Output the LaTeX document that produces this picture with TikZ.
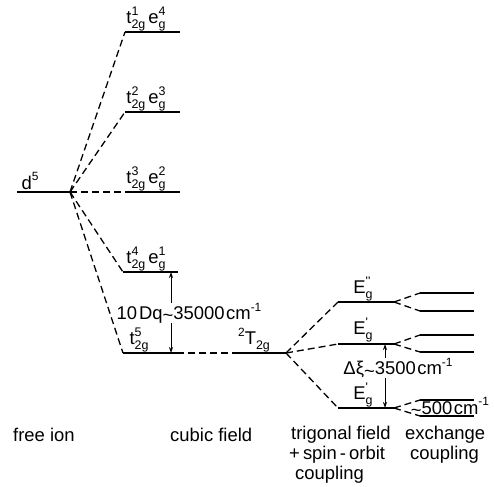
\documentclass[tikz,border=0pt]{standalone}
\usepackage{fontspec}
\setmainfont{Liberation Sans}
\usetikzlibrary{arrows.meta}
% symbol with stacked superscript and subscript
\newcommand{\lv}[3]{#1\rlap{\raisebox{0.85ex}{\fontsize{12.5}{13}\selectfont #2}}\raisebox{-0.55ex}{\fontsize{12.5}{13}\selectfont #3}}
\newcommand{\upi}[1]{\raisebox{0.85ex}{\fontsize{12}{13}\selectfont #1}}
\newcommand{\tld}{\raisebox{-0.25ex}{\textasciitilde}}
\begin{document}
\begin{tikzpicture}[x=1bp,y=-1bp,
  font=\fontsize{18.5}{22}\selectfont,
  level/.style={line width=1.4bp},
  link/.style={line width=1.3bp, dash pattern=on 7bp off 4bp},
  gap/.style={line width=0.8bp, -{Stealth[length=6bp,width=4bp]}},
  lbl/.style={inner sep=0pt},
  caption/.style={inner sep=0pt, anchor=west, align=left}]
\useasboundingbox (0,0) rectangle (494,487);

% free ion
\coordinate (d0) at (17,192);
\coordinate (d1) at (70,192);
\draw[level] (d0) -- (d1);
\node[lbl] (dl) at (30,181) {d\upi{5}};

% cubic field levels
\coordinate (a0) at (125,32);  \coordinate (a1) at (180,32);
\coordinate (b0) at (125,112); \coordinate (b1) at (180,112);
\coordinate (c0) at (125,192); \coordinate (c1) at (180,192);
\coordinate (e0) at (123,272); \coordinate (e1) at (178,272);
\coordinate (f0) at (123,353); \coordinate (f1) at (177,353);
\foreach \p in {a,b,c,e,f} \draw[level] (\p0) -- (\p1);
\foreach \p in {a,b,c,e,f} \draw[link] (d1) -- (\p0);

\node[lbl] (al) at (146,19)  {\lv{t}{1}{2g}\,\lv{e}{4}{g}};
\node[lbl] (bl) at (146,99)  {\lv{t}{2}{2g}\,\lv{e}{3}{g}};
\node[lbl] (cl) at (146,179) {\lv{t}{3}{2g}\,\lv{e}{2}{g}};
\node[lbl] (el) at (146,259) {\lv{t}{4}{2g}\,\lv{e}{1}{g}};
\node[lbl] (fl) at (139,340) {\lv{t}{5}{2g}};

% 10Dq splitting
\coordinate (g0) at (171,272);
\coordinate (g1) at (171,353);
\node[lbl] (dq) at (189,313) {10\hspace{2bp}Dq\tld35000\hspace{1.5bp}cm\upi{-1}};
\draw[gap] (dq.north -| g0) -- (g0);
\draw[gap] (dq.south -| g1) -- (g1);

% 2T2g
\coordinate (h0) at (232,353);
\coordinate (h1) at (286,353);
\draw[link] (f1) -- (h0);
\draw[level] (h0) -- (h1);
\node[lbl] (hl) at (254,340) {\upi{2}\lv{T}{}{2g}};

% trigonal field + spin-orbit coupling
\coordinate (p0) at (338,302); \coordinate (p1) at (394,302);
\coordinate (q0) at (338,344); \coordinate (q1) at (394,344);
\coordinate (r0) at (338,408); \coordinate (r1) at (394,408);
\foreach \p in {p,q,r} {
  \draw[level] (\p0) -- (\p1);
  \draw[link] (h1) -- (\p0);
}
\node[lbl] (pl) at (363,289) {\lv{E}{\textquotesingle\textquotesingle}{g}};
\node[lbl] (ql) at (363,330) {\lv{E}{\textquotesingle}{g}};
\node[lbl] (rl) at (363,395) {\lv{E}{\textquotesingle}{g}};

% spin-orbit gap
\coordinate (s0) at (385,344);
\coordinate (s1) at (385,408);
\node[lbl] (xi) at (398,368) {Δξ\tld3500\hspace{1.5bp}cm\upi{-1}};
\draw[gap] (xi.north -| s0) -- (s0);
\draw[gap] (xi.south -| s1) -- (s1);

% exchange coupling
\foreach \p/\u/\l in {p/293/311, q/335/352, r/400/416} {
  \coordinate (\p u0) at (420,\u); \coordinate (\p u1) at (474,\u);
  \coordinate (\p l0) at (420,\l); \coordinate (\p l1) at (474,\l);
  \draw[link] (\p1) -- (\p u0);
  \draw[link] (\p1) -- (\p l0);
  \draw[level] (\p u0) -- (\p u1);
  \draw[level] (\p l0) -- (\p l1);
}
\node[lbl] (ex) at (450,407) {\tld500\hspace{1.5bp}cm\upi{-1}};

% captions
\node[caption] (c1) at (13,435) {free ion};
\node[caption] (c2) at (170,435) {cubic field};
\node[caption] (c3) at (291,435) {trigonal field};
\node[caption] (c4) at (289,455) {+\,spin\,-\,orbit};
\node[caption] (c5) at (295,475) {coupling};
\node[caption] (c6) at (405,435) {exchange};
\node[caption] (c7) at (410,455) {coupling};
\end{tikzpicture}
\end{document}
